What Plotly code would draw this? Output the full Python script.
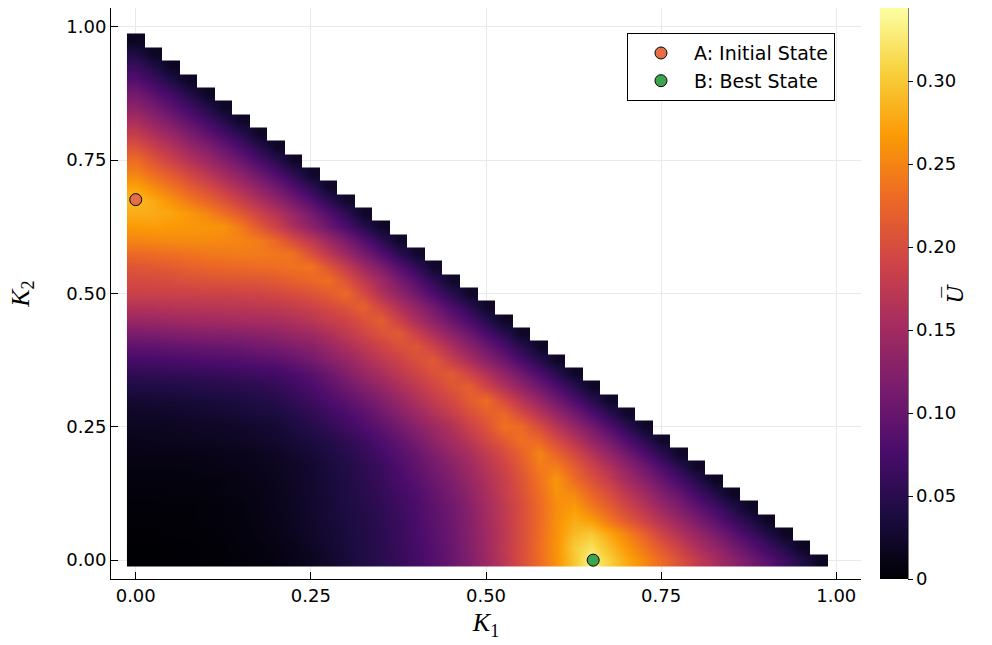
import plotly.graph_objects as go

# grid coordinates (cell centres), step 0.025
k1_values = [0.000, 0.025, 0.050, 0.075, 0.100, 0.125, 0.150, 0.175, 0.200, 0.225,
             0.250, 0.275, 0.300, 0.325, 0.350, 0.375, 0.400, 0.425, 0.450, 0.475,
             0.500, 0.525, 0.550, 0.575, 0.600, 0.625, 0.650, 0.675, 0.700, 0.725,
             0.750, 0.775, 0.800, 0.825, 0.850, 0.875, 0.900, 0.925, 0.950, 0.975]
k2_values = [0.000, 0.025, 0.050, 0.075, 0.100, 0.125, 0.150, 0.175, 0.200, 0.225,
             0.250, 0.275, 0.300, 0.325, 0.350, 0.375, 0.400, 0.425, 0.450, 0.475,
             0.500, 0.525, 0.550, 0.575, 0.600, 0.625, 0.650, 0.675, 0.700, 0.725,
             0.750, 0.775, 0.800, 0.825, 0.850, 0.875, 0.900, 0.925, 0.950, 0.975]

# U-bar, in thousandths; one list per K2 row, K1 from 0 upward
u_row_00 = [0, 0, 1, 1, 2, 3, 4, 6, 8, 12, 17, 24, 33, 41, 50, 59, 70, 84, 100, 120,
            145, 172, 200, 230, 260, 298, 335, 305, 278, 254, 230, 205, 180, 157, 135, 112, 90, 67, 44, 19]
u_row_01 = [0, 0, 1, 1, 2, 3, 5, 7, 10, 14, 20, 28, 35, 43, 51, 61, 72, 86, 102, 123,
            147, 175, 201, 232, 262, 301, 318, 290, 264, 238, 212, 186, 161, 138, 114, 90, 67, 44, 19]
u_row_02 = [1, 1, 2, 2, 3, 4, 6, 9, 12, 17, 23, 29, 36, 43, 51, 62, 74, 88, 103, 124,
            148, 173, 200, 230, 260, 290, 300, 275, 250, 220, 190, 165, 141, 117, 92, 68, 44, 19]
u_row_03 = [2, 2, 2, 3, 4, 5, 7, 10, 13, 19, 25, 31, 37, 44, 53, 62, 75, 90, 105, 126,
            150, 175, 200, 229, 259, 280, 270, 240, 215, 190, 166, 142, 117, 93, 68, 44, 20]
u_row_04 = [3, 3, 3, 3, 4, 5, 7, 10, 14, 19, 25, 32, 39, 46, 54, 65, 77, 92, 107, 128,
            152, 176, 200, 229, 256, 268, 242, 218, 193, 168, 143, 118, 94, 70, 45, 20]
u_row_05 = [4, 4, 5, 5, 6, 8, 9, 11, 15, 20, 26, 33, 40, 49, 58, 69, 81, 97, 113, 134,
            156, 181, 204, 232, 260, 253, 225, 202, 174, 150, 122, 98, 71, 46, 20]
u_row_06 = [6, 6, 6, 6, 7, 8, 10, 13, 16, 21, 26, 33, 41, 51, 61, 74, 87, 103, 120, 140,
            160, 184, 207, 236, 264, 233, 208, 181, 155, 128, 101, 75, 48, 20]
u_row_07 = [8, 8, 8, 9, 10, 11, 13, 15, 18, 22, 27, 35, 44, 53, 64, 78, 94, 110, 128, 148,
            169, 189, 215, 243, 246, 218, 190, 162, 134, 106, 78, 50, 22]
u_row_08 = [11, 11, 11, 12, 12, 13, 14, 17, 20, 26, 32, 39, 48, 59, 72, 86, 100, 120, 139, 157,
            177, 199, 222, 250, 224, 196, 167, 138, 109, 80, 52, 22]
u_row_09 = [14, 15, 16, 17, 18, 19, 21, 23, 27, 32, 38, 44, 54, 66, 81, 95, 113, 133, 152, 171,
            194, 214, 235, 228, 199, 170, 140, 111, 82, 53, 23]
u_row_10 = [18, 18, 19, 20, 21, 22, 24, 27, 30, 38, 46, 56, 68, 80, 92, 110, 128, 146, 163, 187,
            206, 235, 229, 200, 170, 141, 112, 82, 53, 23]
u_row_11 = [22, 23, 24, 26, 28, 30, 33, 36, 38, 46, 55, 66, 77, 90, 107, 126, 144, 163, 181, 202,
            219, 227, 198, 169, 140, 111, 81, 52, 23]
u_row_12 = [29, 30, 31, 32, 34, 36, 39, 42, 47, 56, 66, 78, 90, 105, 122, 140, 160, 178, 195, 216,
            232, 199, 169, 140, 110, 81, 52, 23]
u_row_13 = [41, 42, 43, 45, 46, 48, 50, 53, 58, 66, 77, 90, 106, 123, 139, 157, 175, 192, 209, 219,
            191, 163, 135, 107, 79, 51, 22]
u_row_14 = [55, 56, 57, 58, 60, 62, 64, 67, 70, 78, 88, 104, 122, 140, 157, 174, 189, 205, 214, 191,
            165, 135, 108, 79, 51, 22]
u_row_15 = [72, 73, 75, 77, 79, 81, 83, 86, 90, 97, 109, 124, 139, 156, 172, 187, 203, 213, 185, 158,
            131, 104, 76, 49, 22]
u_row_16 = [93, 94, 96, 98, 100, 102, 105, 109, 113, 120, 128, 142, 158, 174, 189, 203, 210, 188, 159, 131,
            104, 76, 49, 22]
u_row_17 = [116, 118, 121, 123, 125, 126, 127, 130, 134, 142, 147, 161, 175, 191, 206, 215, 187, 160, 132, 105,
            77, 50, 22]
u_row_18 = [142, 144, 146, 148, 150, 151, 153, 154, 156, 162, 170, 180, 190, 205, 218, 188, 158, 132, 103, 77,
            49, 22]
u_row_19 = [165, 166, 168, 169, 170, 171, 172, 174, 176, 181, 188, 198, 208, 221, 192, 164, 136, 108, 79, 51,
            23]
u_row_20 = [186, 186, 187, 187, 188, 188, 189, 191, 195, 200, 207, 216, 228, 198, 163, 136, 107, 79, 50, 23]
u_row_21 = [197, 199, 201, 204, 206, 208, 209, 210, 213, 221, 225, 234, 208, 177, 147, 116, 86, 55, 24]
u_row_22 = [210, 213, 217, 221, 225, 227, 229, 231, 233, 236, 238, 210, 179, 148, 117, 86, 56, 24]
u_row_23 = [229, 231, 234, 237, 240, 242, 243, 243, 240, 235, 204, 174, 144, 114, 84, 54, 24]
u_row_24 = [250, 252, 254, 255, 255, 253, 250, 245, 227, 200, 175, 146, 116, 86, 54, 24]
u_row_25 = [267, 269, 266, 264, 263, 262, 242, 214, 187, 159, 132, 104, 77, 49, 22]
u_row_26 = [280, 279, 275, 266, 253, 234, 213, 190, 168, 141, 113, 84, 55, 22]
u_row_27 = [289, 278, 261, 243, 225, 207, 184, 161, 137, 111, 83, 54, 24]
u_row_28 = [272, 255, 237, 218, 199, 178, 156, 132, 108, 81, 53, 23]
u_row_29 = [249, 231, 214, 193, 173, 151, 129, 105, 79, 52, 23]
u_row_30 = [232, 210, 188, 168, 147, 125, 102, 77, 51, 22]
u_row_31 = [205, 184, 165, 143, 122, 99, 75, 48, 21]
u_row_32 = [180, 160, 140, 118, 95, 73, 48, 22]
u_row_33 = [157, 137, 116, 94, 71, 47, 21]
u_row_34 = [130, 112, 90, 68, 45, 21]
u_row_35 = [110, 90, 68, 45, 20]
u_row_36 = [85, 66, 43, 20]
u_row_37 = [64, 43, 19]
u_row_38 = [40, 19]
u_row_39 = [18]

# marked states
a_k1 = [0.0]
a_k2 = [0.676]
b_k1 = [0.653]
b_k2 = [0.0]

tick_vals = [0.0, 0.25, 0.5, 0.75, 1.0]
tick_text = ["0.00", "0.25", "0.50", "0.75", "1.00"]
cb_vals = [0, 50, 100, 150, 200, 250, 300]          # thousandths
cb_text = ["0", "0.05", "0.10", "0.15", "0.20", "0.25", "0.30"]

rows = [u_row_00, u_row_01, u_row_02, u_row_03, u_row_04, u_row_05, u_row_06, u_row_07,
        u_row_08, u_row_09, u_row_10, u_row_11, u_row_12, u_row_13, u_row_14, u_row_15,
        u_row_16, u_row_17, u_row_18, u_row_19, u_row_20, u_row_21, u_row_22, u_row_23,
        u_row_24, u_row_25, u_row_26, u_row_27, u_row_28, u_row_29, u_row_30, u_row_31,
        u_row_32, u_row_33, u_row_34, u_row_35, u_row_36, u_row_37, u_row_38, u_row_39]
z = [r + [None] * (len(k1_values) - len(r)) for r in rows]

fig = go.Figure()
fig.add_trace(go.Heatmap(
    x=k1_values, y=k2_values, z=z,
    colorscale="Inferno", zmin=0, zmax=344, zsmooth="best",
    hoverinfo="skip", showlegend=False,
    colorbar=dict(
        x=1.0253, xanchor="left", y=0.5, yanchor="middle",
        len=1.0, lenmode="fraction", thickness=28, thicknessmode="pixels",
        xpad=0, ypad=0, outlinewidth=0,
        tickvals=cb_vals, ticktext=cb_text,
        ticks="outside", ticklen=5, tickcolor="black",
        tickfont=dict(family="DejaVu Sans", size=18, color="black"),
    ),
))
fig.add_trace(go.Scatter(
    x=a_k1, y=a_k2, mode="markers", name="A: Initial State",
    marker=dict(color="#E26F46", size=12, line=dict(color="black", width=1)),
))
fig.add_trace(go.Scatter(
    x=b_k1, y=b_k2, mode="markers", name="B: Best State",
    marker=dict(color="#3DA44D", size=12, line=dict(color="black", width=1)),
))

axis_common = dict(
    range=[-0.0353, 1.0353], tickvals=tick_vals, ticktext=tick_text,
    ticks="inside", ticklen=7, tickcolor="black", tickwidth=1,
    showline=True, linecolor="black", linewidth=1, mirror=False,
    showgrid=True, gridcolor="#e9e9e9", gridwidth=1, zeroline=False,
    tickfont=dict(family="DejaVu Sans", size=18, color="black"),
)

fig.update_layout(
    width=992, height=645,
    margin=dict(l=111, r=131, t=8, b=66),
    paper_bgcolor="white", plot_bgcolor="white",
    xaxis=dict(**axis_common,
               title=dict(text="<i>K</i><sub>1</sub>", standoff=8,
                          font=dict(family="Liberation Serif", size=26, color="black"))),
    yaxis=dict(**axis_common,
               title=dict(text="<i>K</i><sub>2</sub>", standoff=29,
                          font=dict(family="Liberation Serif", size=26, color="black"))),
    legend=dict(x=0.9653, y=0.956, xanchor="right", yanchor="top",
                bgcolor="white", bordercolor="black", borderwidth=1,
                itemwidth=56,
                font=dict(family="DejaVu Sans", size=19, color="black")),
    shapes=[dict(type="line", xref="paper", yref="paper",
                 x0=1.0627, x1=1.0627, y0=0, y1=1,
                 line=dict(color="black", width=1))],
    annotations=[dict(text="<i>U\u0305</i>", xref="paper", yref="paper",
                      x=1.144, y=0.5, showarrow=False, textangle=-90,
                      font=dict(family="DejaVu Serif", size=22, color="black"))],
)

fig.write_html("out.html")
